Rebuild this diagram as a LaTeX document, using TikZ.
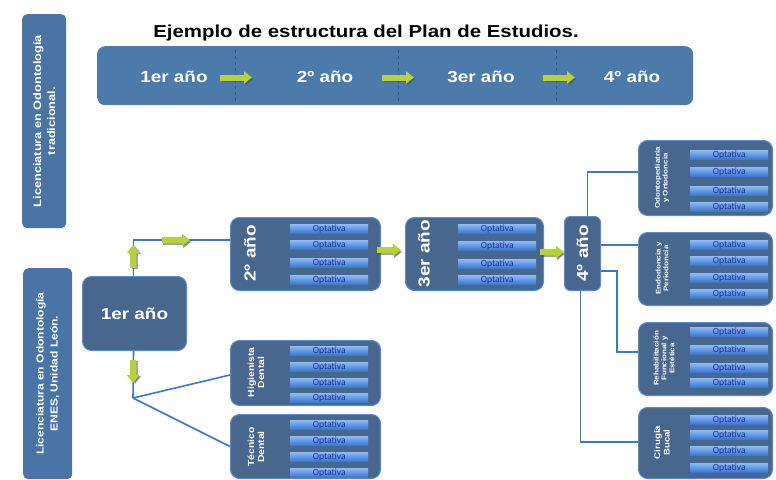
\documentclass[tikz,border=0pt]{standalone}
\usepackage{fontspec}
\setmainfont{Liberation Sans}
\newfontfamily\heavy[FakeStretch=1.18]{Liberation Sans}
\newfontfamily\optfont{Carlito}
\usetikzlibrary{arrows.meta}
\definecolor{bannerblue}{HTML}{4C7AAA}
\definecolor{sideblue}{HTML}{4A74A6}
\definecolor{slate}{HTML}{48678F}
\definecolor{edgeblue}{HTML}{5A8CCC}
\definecolor{divblue}{HTML}{2D5A9A}
\definecolor{optlight}{HTML}{8DBAF2}
\definecolor{optdark}{HTML}{3B76D2}
\definecolor{opttext}{HTML}{1C2D9C}
\definecolor{agreen}{HTML}{B7D437}
\definecolor{conn}{HTML}{3C78C8}
\begin{document}
\begin{tikzpicture}[x=1pt,y=-1pt,
  sidebox/.style={fill=sideblue, rounded corners=5pt, inner sep=0pt, anchor=north west},
  dbox/.style={fill=slate, draw=edgeblue, line width=1pt, rounded corners=9pt, inner sep=0pt, anchor=north west},
  opt/.style={top color=optlight, bottom color=optdark, draw=none, minimum width=78pt, minimum height=9pt, inner sep=0pt, text=opttext, font=\optfont\fontsize{9.5}{9.5}\selectfont, anchor=north west},
  wtxt/.style={text=white, font=\heavy\bfseries\fontsize{16}{18}\selectfont, inner sep=0pt},
  rlab/.style={text=white, font=\heavy\bfseries\fontsize{6.8}{7.8}\selectfont, align=center, rotate=90, inner sep=0pt},
  llab/.style={text=white, font=\heavy\bfseries\fontsize{8.8}{10}\selectfont, align=center, rotate=90, inner sep=0pt},
  vlab/.style={text=white, font=\heavy\bfseries\fontsize{10.8}{14}\selectfont, align=center, rotate=90, inner sep=0pt},
  garrowshadow/.style={draw=black!70, line width=6pt, -{Triangle[length=8pt,width=12pt]}, opacity=0.5},
  garrow/.style={draw=agreen, line width=6pt, -{Triangle[length=8pt,width=12pt]}},
  connector/.style={draw=conn, line width=1.6pt},
  divider/.style={draw=divblue, dashed, line width=0.8pt}
]
\useasboundingbox[fill=white] (0,0) rectangle (776,479);

% side boxes
\node[sidebox, minimum width=44pt, minimum height=214pt] (side1) at (22,14) {};
\node[vlab] (side1t) at (side1.center) {Licenciatura en Odontología\\tradicional.};
\node[sidebox, minimum width=49pt, minimum height=211pt] (side2) at (23,268) {};
\node[vlab, font=\heavy\bfseries\fontsize{10.2}{14}\selectfont] (side2t) at (side2.center) {Licenciatura en Odontología\\ENES, Unidad León.};

% title
\node[font=\heavy\bfseries\fontsize{17.3}{20}\selectfont, inner sep=0pt] (title) at (366,33) {Ejemplo de estructura del Plan de Estudios.};

% banner
\node[fill=bannerblue, rounded corners=8pt, minimum width=596pt, minimum height=59pt, inner sep=0pt, anchor=north west] (banner) at (97,46) {};
\draw[divider] (235,50) -- (235,102);
\draw[divider] (398,50) -- (398,102);
\draw[divider] (556,50) -- (556,102);
\node[wtxt] (b1) at (174,77) {1er año};
\node[wtxt] (b2) at (325,77) {2º año};
\node[wtxt] (b3) at (481,77) {3er año};
\node[wtxt] (b4) at (632,77) {4º año};
\foreach \a/\b in {220/252, 382/414, 543/575}{
  \draw[garrowshadow] (\a+1.5,79) -- (\b+1.5,79);
  \draw[garrow] (\a,77.5) -- (\b,77.5);
}

% first year box
\node[dbox, minimum width=104pt, minimum height=74pt] (y1) at (82,276) {};
\node[wtxt] (y1t) at (y1.center) {1er año};

% year boxes
\node[dbox, minimum width=150pt, minimum height=73pt] (y2) at (230,217) {};
\node[wtxt, rotate=90] (y2t) at (250,253.5) {2º año};
\node[dbox, minimum width=138pt, minimum height=73pt] (y3) at (405,217) {};
\node[wtxt, rotate=90] (y3t) at (424,253.5) {3er año};
\node[dbox, minimum width=36pt, minimum height=74pt, rounded corners=6pt] (y4) at (564,216) {};
\node[wtxt, rotate=90] (y4t) at (y4.center) {4º año};

% left specialties
\node[dbox, minimum width=150pt, minimum height=65pt] (hig) at (230,340) {};
\node[llab] (higt) at (256,372.5) {Higienista\\Dental};
\node[dbox, minimum width=150pt, minimum height=64pt] (tec) at (230,414) {};
\node[llab] (tect) at (256,447) {Técnico\\Dental};

% right specialties
\node[dbox, minimum width=134pt, minimum height=75pt] (odo) at (638,140) {};
\node[rlab] (odot) at (662,178) {Odontopediatría\\y Ortodoncia};
\node[dbox, minimum width=134pt, minimum height=73pt] (endo) at (638,232) {};
\node[rlab] (endot) at (662,268.5) {Endodoncia y\\Periodoncia};
\node[dbox, minimum width=134pt, minimum height=73pt] (reh) at (638,322) {};
\node[rlab] (reht) at (664,358.5) {Rehabilitación\\Funcional y\\Estética};
\node[dbox, minimum width=134pt, minimum height=71pt] (cir) at (638,407) {};
\node[rlab, font=\heavy\bfseries\fontsize{8.2}{9.5}\selectfont] (cirt) at (662,442.5) {Cirugía\\Bucal};

% optativa bars
\foreach \n/\x/\ya/\yb/\yc/\yd in {
  a/290/224/240/258/275,
  b/458/224/241/259/275,
  c/290/346/362/378/393,
  d/290/420/436/452/468,
  e/690/150/167/186/202,
  f/690/240/256/273/289,
  g/690/327/345/363/378,
  h/690/415/430/446/463}{
  \node[opt] (o\n1) at (\x,\ya) {Optativa};
  \node[opt] (o\n2) at (\x,\yb) {Optativa};
  \node[opt] (o\n3) at (\x,\yc) {Optativa};
  \node[opt] (o\n4) at (\x,\yd) {Optativa};
}

% connectors
\coordinate (J) at (133,398);
\draw[connector] ([xshift=-1pt]y1.north) |- (y2.west |- 0,240);
\draw[connector] ([xshift=-1pt]y1.south) -- (J);
\draw[connector] (J) -- (hig.west |- 0,375);
\draw[connector] (J) -- (tec.west);
\draw[connector] ([xshift=5pt]y4.north) |- (odo.west |- 0,172);
\draw[connector] (y4.east |- 0,245) -- (endo.west |- 0,245);
\draw[connector] (y4.east |- 0,271) -- (617,271) |- (reh.west |- 0,352);
\draw[connector] ([xshift=-2pt]y4.south) |- (cir.west |- 0,442);

% green arrows on connectors
\draw[garrowshadow] (135,269) -- (135,246);
\draw[garrow] (133,268) -- (133,245);
\draw[garrowshadow] (163,242) -- (191,242);
\draw[garrow] (162,240) -- (190,240);
\draw[garrowshadow] (135,361) -- (135,384);
\draw[garrow] (133,360) -- (133,383);
\draw[garrowshadow] (378,252) -- (402,252);
\draw[garrow] (377,250) -- (401,250);
\draw[garrowshadow] (541,254) -- (565,254);
\draw[garrow] (540,252) -- (564,252);
\end{tikzpicture}
\end{document}
